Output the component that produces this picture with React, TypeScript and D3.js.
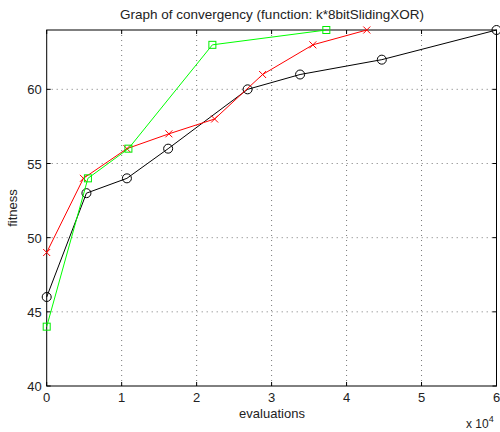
import React from "react";
import * as d3 from "d3";

const blackX = [0, 0.53, 1.07, 1.62, 2.68, 3.38, 4.47, 6.0];
const blackY = [46, 53, 54, 56, 60, 61, 62, 64];
const redX = [0, 0.49, 1.07, 1.63, 2.24, 2.88, 3.55, 4.27];
const redY = [49, 54, 56, 57, 58, 61, 63, 64];
const greenX = [0, 0.55, 1.09, 2.21, 3.73];
const greenY = [44, 54, 56, 63, 64];
const xTicks = [0, 1, 2, 3, 4, 5, 6];
const yTicks = [40, 45, 50, 55, 60];

const W = 500, H = 432;
const L = 46.7, R = 496.5, T = 30, B = 386;
const font = "Liberation Sans, Arial, Helvetica, sans-serif";

export default function App() {
  const x = d3.scaleLinear().domain([0, 6]).range([L, R]);
  const y = d3.scaleLinear().domain([40, 64]).range([B, T]);
  const line = d3.line<[number, number]>().x(d => x(d[0])).y(d => y(d[1]));
  const pts = (xs: number[], ys: number[]) => xs.map((v, i) => [v, ys[i]] as [number, number]);
  const black = pts(blackX, blackY);
  const red = pts(redX, redY);
  const green = pts(greenX, greenY);
  return (
    <svg width={W} height={H} style={{ position: "absolute", left: 0, top: 0, background: "#fff" }} fontFamily={font}>
      <rect x={0} y={0} width={W} height={H} fill="#fff" />
      {/* grid */}
      {xTicks.slice(1, -1).map(t => (
        <line key={"gx" + t} x1={x(t)} x2={x(t)} y1={T} y2={B} stroke="#555" strokeWidth={0.8} strokeDasharray="1,4" />
      ))}
      {yTicks.slice(1).map(t => (
        <line key={"gy" + t} x1={L} x2={R} y1={y(t)} y2={y(t)} stroke="#555" strokeWidth={0.8} strokeDasharray="1,4" />
      ))}
      {/* ticks */}
      {xTicks.map(t => (
        <g key={"tx" + t}>
          <line x1={x(t)} x2={x(t)} y1={B} y2={B - 4} stroke="#000" />
          <line x1={x(t)} x2={x(t)} y1={T} y2={T + 4} stroke="#000" />
          <text x={x(t)} y={B + 16} fontSize={13} textAnchor="middle" fill="#222">{t}</text>
        </g>
      ))}
      {yTicks.map(t => (
        <g key={"ty" + t}>
          <line x1={L} x2={L + 4} y1={y(t)} y2={y(t)} stroke="#000" />
          <line x1={R} x2={R - 4} y1={y(t)} y2={y(t)} stroke="#000" />
          <text x={L - 5} y={y(t) + 5} fontSize={13} textAnchor="end" fill="#222">{t}</text>
        </g>
      ))}
      <rect x={L} y={T} width={R - L} height={B - T} fill="none" stroke="#000" strokeWidth={1} />
      {/* series */}
      <path d={line(black) || ""} fill="none" stroke="#000" strokeWidth={1} />
      {black.map((p, i) => (
        <circle key={"b" + i} cx={x(p[0])} cy={y(p[1])} r={4.5} fill="none" stroke="#000" strokeWidth={1} />
      ))}
      <path d={line(red) || ""} fill="none" stroke="#ff0000" strokeWidth={1} />
      {red.map((p, i) => (
        <path key={"r" + i} d={`M${x(p[0]) - 3.5},${y(p[1]) - 3.5}L${x(p[0]) + 3.5},${y(p[1]) + 3.5}M${x(p[0]) - 3.5},${y(p[1]) + 3.5}L${x(p[0]) + 3.5},${y(p[1]) - 3.5}`} stroke="#ff0000" strokeWidth={1} fill="none" />
      ))}
      <path d={line(green) || ""} fill="none" stroke="#00ff00" strokeWidth={1} />
      {green.map((p, i) => (
        <rect key={"g" + i} x={x(p[0]) - 3.5} y={y(p[1]) - 3.5} width={7} height={7} fill="none" stroke="#00ee00" strokeWidth={1} />
      ))}
      {/* labels */}
      <text x={272} y={19} fontSize={13.5} textAnchor="middle" fill="#222">Graph of convergency (function: k*8bitSlidingXOR)</text>
      <text x={272} y={418} fontSize={13} textAnchor="middle" fill="#222">evaluations</text>
      <text transform={`translate(17,${208}) rotate(-90)`} fontSize={13} textAnchor="middle" fill="#222">fitness</text>
      <text x={466} y={428} fontSize={12} fill="#222">x 10<tspan dy={-6} fontSize={9}>4</tspan></text>
    </svg>
  );
}
